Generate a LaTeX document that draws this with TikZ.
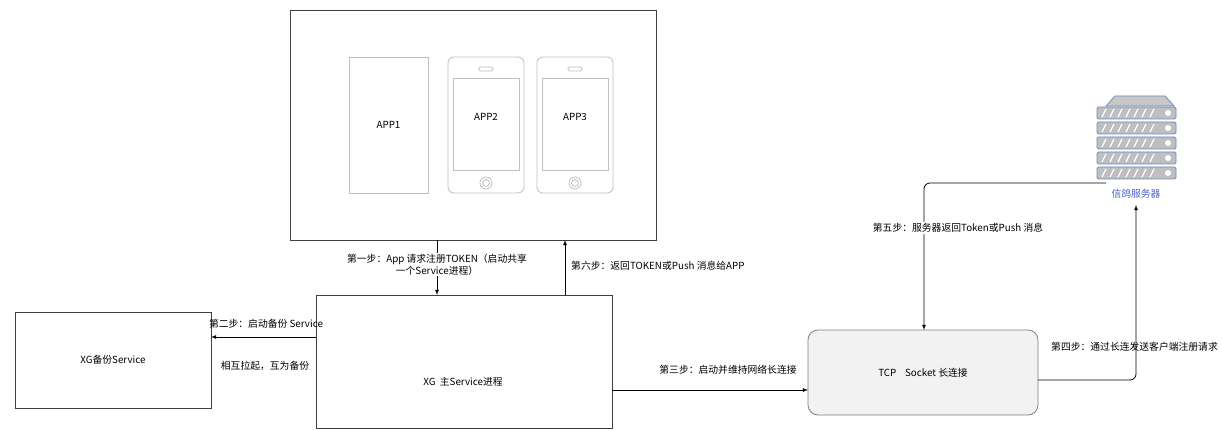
\documentclass[tikz,border=0pt]{standalone}
\usepackage{fontspec}
\setmainfont{Noto Sans CJK SC}
\definecolor{srvb}{HTML}{6C8EBF}
\begin{document}
\begin{tikzpicture}[x=1pt,y=-1pt,
  lbl/.style={font=\fontsize{9.8}{11.5}\selectfont,align=center,inner sep=1pt},
  box/.style={draw=black!75,line width=0.8pt},
  gbox/.style={draw=black!25,line width=0.8pt},
  arr/.style={-latex,line width=0.8pt},
  ]
\useasboundingbox (0,0) rectangle (1222,430);
\fill[white] (0,0) rectangle (1222,430);
% top box
\node[box,minimum width=366pt,minimum height=230pt,inner sep=0] (top) at (473,125) {};
% apps
\node[gbox,minimum width=79pt,minimum height=136pt,inner sep=0,lbl] (app1) at (388.5,125) {APP1};
\foreach \n/\cx in {app2/486,app3/575}{
  \node[gbox,rounded corners=6pt,minimum width=76pt,minimum height=136pt,inner sep=0] (\n) at (\cx,125) {};
  \draw[gbox] (\cx-33,78) rectangle (\cx+33,170);
  \draw[gbox,rounded corners=1.5pt] (\cx-7,67) rectangle (\cx+7,71);
  \draw[gbox] (\cx,183) circle (6);
  \draw[gbox] (\cx,183) circle (3.5);
}
\node[lbl] at (486,117) {APP2};
\node[lbl] at (575,117) {APP3};
% main
\node[box,minimum width=296pt,minimum height=133pt,inner sep=0] (main) at (464,361.5) {};
\node[lbl] at (463,382) {XG\ \ 主Service进程};
% backup
\node[box,minimum width=196pt,minimum height=96pt,inner sep=0,lbl] (bak) at (113,360) {XG备份Service};
% tcp
\node[draw=black!50,fill=black!5,line width=0.8pt,rounded corners=10pt,minimum width=230pt,minimum height=85pt,inner sep=0,lbl] (tcp) at (923,372.5) {TCP\ \ \ \ Socket 长连接};
% server icon
\coordinate (srvL) at (1106,183);
\fill[black!22,draw=srvb,line width=0.8pt] (1106,106) -- (1115,96) -- (1165,96) -- (1174,106) -- cycle;
\foreach \i in {0,...,4}{
  \pgfmathsetmacro\yy{107+\i*15}
  \fill[black!25,draw=srvb,line width=0.8pt,rounded corners=1.5pt] (1097,\yy) rectangle (1176,\yy+12);
  \foreach \k in {0,...,6}{\draw[white,line width=1.2pt] (1102+\k*8,\yy+10) -- (1106+\k*8,\yy+2);}
  \fill[white] (1168,\yy+6) circle (3);
}
\node[lbl,text=srvb!70!blue] (srvl) at (1136,194) {信鸽服务器};
% connectors
\draw[arr] (437,240) -- node[lbl,pos=0.45,fill=white]{第一步：App 请求注册TOKEN（启动共享\\一个Service进程）} (437,295);
\draw[arr] (565,295) -- (565,240);
\node[lbl,anchor=west] at (570,266) {第六步：返回TOKEN或Push 消息给APP};
\draw[arr] (316,337) -- (211,337);
\node[lbl] at (266,324) {第二步：启动备份 Service};
\node[lbl] at (265,366) {相互拉起，互为备份};
\draw[arr] (612,390) -- (808,390);
\node[lbl] at (728,370) {第三步：启动并维持网络长连接};
\draw[arr,rounded corners=6pt] (srvL) -- (924,183) -- (924,330);
\node[lbl,fill=white] at (958,228) {第五步：服务器返回Token或Push 消息};
\draw[arr,rounded corners=6pt] (1038,380) -- (1136,380) -- (1136,205);
\node[lbl,anchor=west] at (1050,347) {第四步：通过长连发送客户端注册请求};
\end{tikzpicture}
\end{document}
